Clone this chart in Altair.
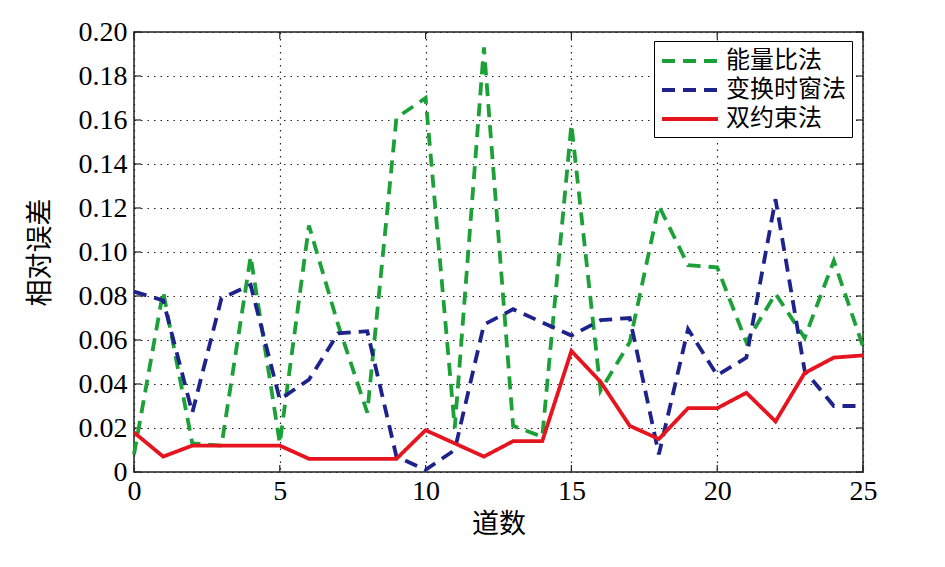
import altair as alt
import pandas as pd

# ---- data ----
x_vals = list(range(26))
names = ["能量比法", "变换时窗法", "双约束法"]
green = [0.008, 0.082, 0.013, 0.012, 0.098, 0.013, 0.112, 0.067, 0.027, 0.161,
         0.170, 0.020, 0.193, 0.021, 0.016, 0.158, 0.037, 0.059, 0.121, 0.094,
         0.093, 0.059, 0.081, 0.061, 0.096, 0.057]
blue = [0.082, 0.078, 0.027, 0.079, 0.085, 0.033, 0.042, 0.063, 0.064, 0.007,
        0.001, 0.010, 0.067, 0.074, 0.068, 0.062, 0.069, 0.070, 0.008, 0.065,
        0.044, 0.052, 0.124, 0.046, 0.030, 0.030]
red = [0.018, 0.007, 0.012, 0.012, 0.012, 0.012, 0.006, 0.006, 0.006, 0.006,
       0.019, 0.013, 0.007, 0.014, 0.014, 0.055, 0.041, 0.021, 0.015, 0.029,
       0.029, 0.036, 0.023, 0.045, 0.052, 0.053]
x_ticks = [0, 5, 10, 15, 20, 25]
y_ticks = [round(i * 0.02, 2) for i in range(11)]

colors = ["#1ca038", "#1e238c", "#e6141e"]
dashes = [[13, 8], [13, 8], [1, 0]]

rows = []
for name, series in zip(names, [green, blue, red]):
    for xv, yv in zip(x_vals, series):
        rows.append({"x": xv, "y": yv, "method": name})
df = pd.DataFrame(rows)
df_xt = pd.DataFrame({"x": x_ticks})
df_yt = pd.DataFrame({"y": y_ticks})

W, H = 729, 440
SERIF = "Liberation Serif"
CJK = "Noto Sans CJK SC"
MIXED = "Liberation Serif, Noto Sans CJK SC"

xscale = alt.Scale(domain=[0, 25], nice=False, zero=False)
yscale = alt.Scale(domain=[0, 0.2], nice=False)

x_axis = alt.Axis(values=x_ticks, title="道数", grid=True, domain=False,
                  tickSize=0, labelFont=SERIF, labelFontSize=28,
                  labelColor="black", labelPadding=5,
                  titleFont=CJK, titleFontSize=27, titleFontWeight="normal",
                  titleColor="black", titlePadding=6,
                  gridColor="#222", gridDash=[1.5, 5], gridWidth=1.2,
                  labelFlush=False)
y_axis = alt.Axis(values=y_ticks, title="相对误差", grid=True, domain=False,
                  tickSize=0, labelFont=SERIF, labelFontSize=28,
                  labelColor="black", labelPadding=7,
                  labelExpr="datum.value == 0 ? '0' : format(datum.value, '.2f')",
                  titleFont=CJK, titleFontSize=27, titleFontWeight="normal",
                  titleColor="black", titlePadding=24,
                  gridColor="#222", gridDash=[1.5, 5], gridWidth=1.2,
                  labelFlush=False)

legend = alt.Legend(
    title=None, orient="none", legendX=520, legendY=9,
    symbolType="M-1,0H3.667", symbolSize=576, symbolStrokeWidth=4,
    labelFont=MIXED, labelFontSize=24, labelOffset=38, labelLimit=300,
    padding=6, rowPadding=3, strokeColor="black", fillColor="white",
    cornerRadius=0,
)

lines = alt.Chart(df).mark_line(strokeWidth=3.8).encode(
    x=alt.X("x:Q", scale=xscale, axis=x_axis),
    y=alt.Y("y:Q", scale=yscale, axis=y_axis),
    color=alt.Color("method:N", scale=alt.Scale(domain=names, range=colors),
                    sort=names, legend=legend),
    strokeDash=alt.StrokeDash("method:N", scale=alt.Scale(domain=names, range=dashes),
                              sort=names, legend=legend),
    order=alt.Order("x:Q"),
)

tick_color = "#222"
bottom_ticks = alt.Chart(df_xt).mark_rule(color=tick_color, strokeWidth=1.2).encode(
    x=alt.X("x:Q", scale=xscale, axis=x_axis), y=alt.value(H - 7), y2=alt.value(H))
top_ticks = alt.Chart(df_xt).mark_rule(color=tick_color, strokeWidth=1.2).encode(
    x=alt.X("x:Q", scale=xscale, axis=x_axis), y=alt.value(0), y2=alt.value(7))
left_ticks = alt.Chart(df_yt).mark_rule(color=tick_color, strokeWidth=1.2).encode(
    y=alt.Y("y:Q", scale=yscale, axis=y_axis), x=alt.value(0), x2=alt.value(7))
right_ticks = alt.Chart(df_yt).mark_rule(color=tick_color, strokeWidth=1.2).encode(
    y=alt.Y("y:Q", scale=yscale, axis=y_axis), x=alt.value(W - 7), x2=alt.value(W))

chart = alt.layer(bottom_ticks, top_ticks, left_ticks, right_ticks, lines).properties(
    width=W, height=H,
    autosize=alt.AutoSizeParams(type="none"),
    padding={"left": 126, "top": 24, "right": 74, "bottom": 87},
    background="white",
).configure_view(stroke="#222", strokeWidth=1.5)

chart.save("out.html", embed_options={"renderer": "svg", "actions": False})
